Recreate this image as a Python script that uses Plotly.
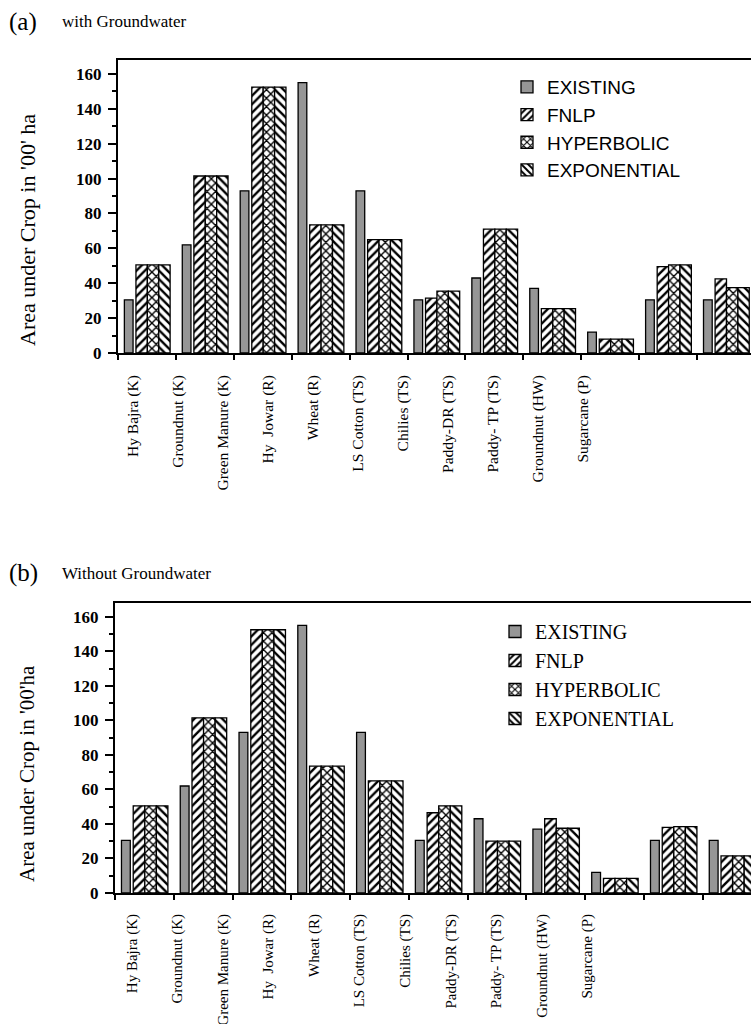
import plotly.graph_objects as go

# ---------------- data ----------------
categories = ["Hy Bajra (K)", "Groundnut (K)", "Green Manure (K)", "Hy\u00a0 Jowar (R)",
              "Wheat (R)", "LS Cotton (TS)", "Chilies (TS)", "Paddy-DR (TS)",
              "Paddy- TP (TS)", "Groundnut (HW)", "Sugarcane (P)"]

series_names = ["EXISTING", "FNLP", "HYPERBOLIC", "EXPONENTIAL"]

# (a) with Groundwater
a_existing    = [30.5, 62, 93, 155, 93, 30.5, 43, 37, 12, 30.5, 30.5]
a_fnlp        = [50.5, 101.5, 152.5, 73.5, 65, 31.5, 71, 25.5, 8, 49.5, 42.5]
a_hyperbolic  = [50.5, 101.5, 152.5, 73.5, 65, 35.5, 71, 25.5, 8, 50.5, 37.5]
a_exponential = [50.5, 101.5, 152.5, 73.5, 65, 35.5, 71, 25.5, 8, 50.5, 37.5]

# (b) Without Groundwater
b_existing    = [30.5, 62, 93, 155, 93, 30.5, 43, 37, 12, 30.5, 30.5]
b_fnlp        = [50.5, 101.5, 152.5, 73.5, 65, 46.5, 30, 43, 8.5, 38, 21.5]
b_hyperbolic  = [50.5, 101.5, 152.5, 73.5, 65, 50.5, 30, 37.5, 8.5, 38.5, 21.5]
b_exponential = [50.5, 101.5, 152.5, 73.5, 65, 50.5, 30, 37.5, 8.5, 38.5, 21.5]

# ---------------- styles ----------------
TIMES = "Times New Roman, Liberation Serif, serif"
ARIAL = "Arial, Liberation Sans, sans-serif"
W, H = 751, 1024

styles = {
    "EXISTING":    dict(offset=-0.39, width=0.15, shape=""),
    "FNLP":        dict(offset=-0.19, width=0.197, shape="/"),
    "HYPERBOLIC":  dict(offset=0.007, width=0.197, shape="x"),
    "EXPONENTIAL": dict(offset=0.204, width=0.196, shape="\\"),
}

fig = go.Figure()

panels = [
    ("x", "y", "legend", [a_existing, a_fnlp, a_hyperbolic, a_exponential]),
    ("x2", "y2", "legend2", [b_existing, b_fnlp, b_hyperbolic, b_exponential]),
]

for xa, ya, lg, vals_list in panels:
    for name, vals in zip(series_names, vals_list):
        st = styles[name]
        if st["shape"] == "":
            marker = dict(color="#969696", line=dict(color="black", width=1.3))
        else:
            marker = dict(color="white", line=dict(color="black", width=1.3),
                          pattern=dict(shape=st["shape"], fgcolor="black", bgcolor="white",
                                       size=6, solidity=0.4, fillmode="replace"))
        fig.add_trace(go.Bar(x=categories, y=vals, name=name, xaxis=xa, yaxis=ya,
                             legend=lg, offset=st["offset"], width=st["width"],
                             marker=marker, hoverinfo="x+y+name"))

# invisible traces carrying the (offset) category labels
fig.add_trace(go.Scatter(x=categories, y=a_existing, xaxis="x3", yaxis="y", mode="markers",
                         marker=dict(opacity=0), showlegend=False, hoverinfo="skip"))
fig.add_trace(go.Scatter(x=categories, y=b_existing, xaxis="x4", yaxis="y2", mode="markers",
                         marker=dict(opacity=0), showlegend=False, hoverinfo="skip"))


def main_x(domain, rng, anchor):
    return dict(domain=domain, anchor=anchor, type="category", categoryorder="array",
                categoryarray=categories, range=rng, showline=True, linecolor="black",
                linewidth=2, mirror=True, ticks="outside", tickson="boundaries",
                ticklen=5, tickwidth=1.5, tickcolor="black", showticklabels=False,
                showgrid=False, zeroline=False, automargin=False)


def label_x(domain, anchor, size, tlen):
    return dict(domain=domain, anchor=anchor, type="category", categoryorder="array",
                categoryarray=categories, range=[-0.5, 10.5], showline=False,
                ticks="outside", ticklen=tlen, tickcolor="rgba(0,0,0,0)", tickangle=-90,
                tickfont=dict(family=TIMES, size=size, color="black"),
                showgrid=False, zeroline=False, automargin=False)


def main_y(domain, anchor):
    return dict(domain=domain, anchor=anchor, range=[0, 168], tick0=0, dtick=20,
                showline=True, linecolor="black", linewidth=2, ticks="outside",
                ticklen=8, tickwidth=1.5, tickcolor="black", ticklabelstandoff=3,
                tickfont=dict(family=TIMES, size=17, color="black", weight="bold"),
                minor=dict(dtick=10, ticks="outside", ticklen=4, tickwidth=1.5,
                           tickcolor="black", showgrid=False),
                showgrid=False, zeroline=False, automargin=False)


fig.update_layout(
    width=W, height=H, autosize=False,
    margin=dict(l=0, r=0, t=0, b=0, autoexpand=False),
    paper_bgcolor="white", plot_bgcolor="rgba(0,0,0,0)",
    barmode="overlay",
    xaxis=main_x([118 / W, 1], [-0.5, 10.43], "y"),
    yaxis=main_y([1 - 353 / H, 1 - 60 / H], "x"),
    xaxis2=main_x([115 / W, 1], [-0.5, 10.32], "y2"),
    yaxis2=main_y([1 - 893 / H, 1 - 603 / H], "x2"),
    xaxis3=label_x([110.8 / W, 605.5 / W], "y", 15.5, 15),
    xaxis4=label_x([108.9 / W, 610.3 / W], "y2", 15, 14),
    legend=dict(x=507 / W, y=1 - 68 / H, xanchor="left", yanchor="top",
                font=dict(family=ARIAL, size=19, color="black"),
                bgcolor="rgba(0,0,0,0)", tracegroupgap=0),
    legend2=dict(x=495 / W, y=1 - 612 / H, xanchor="left", yanchor="top",
                 font=dict(family=TIMES, size=20, color="black"),
                 bgcolor="rgba(0,0,0,0)", tracegroupgap=0),
    showlegend=True,
)

annotations = [
    dict(text="(a)", x=7 / W, y=1 - 22 / H, xanchor="left", yanchor="middle",
         font=dict(family=TIMES, size=25, color="black")),
    dict(text="with Groundwater", x=60 / W, y=1 - 21 / H, xanchor="left", yanchor="middle",
         font=dict(family=TIMES, size=17, color="black")),
    dict(text="(b)", x=7 / W, y=1 - 573 / H, xanchor="left", yanchor="middle",
         font=dict(family=TIMES, size=25, color="black")),
    dict(text="Without Groundwater", x=60 / W, y=1 - 573 / H, xanchor="left", yanchor="middle",
         font=dict(family=TIMES, size=17, color="black")),
    dict(text="Area under Crop in '00' ha", x=27 / W, y=1 - 230 / H, textangle=-90,
         xanchor="center", yanchor="middle", font=dict(family=TIMES, size=22, color="black")),
    dict(text="Area under Crop in '00'ha", x=27 / W, y=1 - 774 / H, textangle=-90,
         xanchor="center", yanchor="middle", font=dict(family=TIMES, size=21, color="black")),
]
for a in annotations:
    a.update(xref="paper", yref="paper", showarrow=False)
fig.update_layout(annotations=annotations)

post = (
    "document.documentElement.style.overflow='hidden';"
    "document.body.style.margin='0';document.body.style.overflow='hidden';"
)
fig.write_html("out.html", config={"displayModeBar": False}, post_script=post)
